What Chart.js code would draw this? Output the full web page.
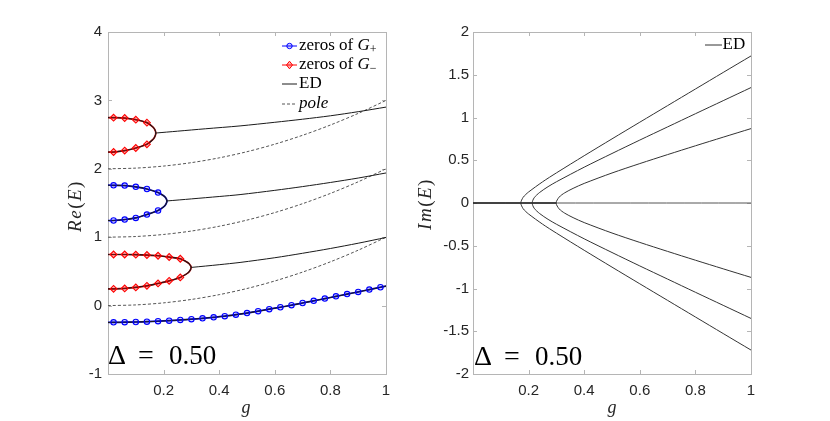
<!DOCTYPE html>
<html>
<head>
<meta charset="utf-8">
<script src="https://cdn.jsdelivr.net/npm/chart.js@4.4.1/dist/chart.umd.min.js"></script>
<style>
  html, body { margin: 0; padding: 0; background: #fff; }
  .panel { position: absolute; top: 0; width: 415px; height: 421px; }
</style>
</head>
<body>
<div class="panel" style="left:0"><canvas id="reChart"></canvas></div>
<div class="panel" style="left:415px"><canvas id="imChart"></canvas></div>
<script>
// tick labels
const gTicks = [0.2, 0.4, 0.6, 0.8, 1];
const reTicks = [-1, 0, 1, 2, 3, 4];
const imTicks = [-2, -1.5, -1, -0.5, 0, 0.5, 1, 1.5, 2];

// poles (dashed)
const poleG = [0, 0.1, 0.2, 0.3, 0.4, 0.5, 0.6, 0.7, 0.8, 0.9, 1];
const pole0 = [0, 0.01, 0.04, 0.09, 0.16, 0.25, 0.36, 0.49, 0.64, 0.81, 1.0];
const pole1 = [1, 1.01, 1.04, 1.09, 1.16, 1.25, 1.36, 1.49, 1.64, 1.81, 2.0];
const pole2 = [2, 2.01, 2.04, 2.09, 2.16, 2.25, 2.36, 2.49, 2.64, 2.81, 3.0];

// zeros of G- (upper loop), two real branches meeting at redHiBif
const redHiG = [0, 0.02, 0.06, 0.10, 0.14, 0.16, 0.168];
const redHiUp = [2.749, 2.748, 2.742, 2.718, 2.675, 2.616, 2.577];
const redHiDn = [2.245, 2.245, 2.266, 2.304, 2.358, 2.422, 2.465];
const redHiBif = [0.172, 2.523];

// zeros of G+ (middle loop)
const blueMidG = [0, 0.02, 0.06, 0.10, 0.14, 0.18, 0.20, 0.208];
const blueMidUp = [1.760, 1.759, 1.755, 1.736, 1.705, 1.653, 1.605, 1.574];
const blueMidDn = [1.244, 1.244, 1.258, 1.282, 1.331, 1.390, 1.444, 1.481];
const blueMidBif = [0.212, 1.530];

// zeros of G- (lower loop)
const redLoG = [0, 0.02, 0.06, 0.10, 0.14, 0.18, 0.22, 0.26, 0.28, 0.292];
const redLoUp = [0.747, 0.747, 0.747, 0.745, 0.739, 0.729, 0.710, 0.685, 0.645, 0.611];
const redLoDn = [0.245, 0.245, 0.251, 0.266, 0.289, 0.324, 0.362, 0.412, 0.456, 0.496];
const redLoBif = [0.299, 0.558];

// zeros of G+ (lowest branch)
const blueLoG = [0, 0.02, 0.06, 0.10, 0.14, 0.18, 0.22, 0.26, 0.30, 0.34, 0.38, 0.42, 0.46,
                 0.50, 0.54, 0.58, 0.62, 0.66, 0.70, 0.74, 0.78, 0.82, 0.86, 0.90, 0.94, 0.98, 1];
const blueLoE = [-0.246, -0.245, -0.243, -0.240, -0.235, -0.228, -0.220, -0.210, -0.199, -0.186,
                 -0.171, -0.155, -0.133, -0.109, -0.082, -0.052, -0.024, 0.006, 0.038, 0.070,
                 0.102, 0.135, 0.168, 0.200, 0.234, 0.268, 0.285];

// ED real part after the merging points
const edHiG = [0.172, 0.25, 0.35, 0.475, 0.6, 0.7, 0.8, 0.9, 1];
const edHiE = [2.523, 2.550, 2.585, 2.627, 2.680, 2.725, 2.775, 2.835, 2.902];
const edMidG = [0.212, 0.3, 0.4, 0.475, 0.6, 0.7, 0.8, 0.9, 1];
const edMidE = [1.530, 1.560, 1.595, 1.623, 1.685, 1.740, 1.800, 1.865, 1.939];
const edLoG = [0.299, 0.35, 0.4, 0.475, 0.6, 0.7, 0.8, 0.9, 1];
const edLoE = [0.558, 0.578, 0.598, 0.631, 0.700, 0.765, 0.835, 0.912, 0.996];

// ED imaginary part (upper halves; lower halves are the conjugates)
const imOuterG = [0.172, 0.18, 0.19, 0.2, 0.25, 0.3, 0.4, 0.5, 0.6, 0.7, 0.8, 0.9, 1];
const imOuter = [0, 0.065, 0.100, 0.129, 0.247, 0.352, 0.553, 0.750, 0.945, 1.139, 1.333, 1.527, 1.720];
const imMidG = [0.213, 0.22, 0.24, 0.27, 0.3, 0.4, 0.5, 0.6, 0.7, 0.8, 0.9, 1];
const imMid = [0, 0.061, 0.124, 0.191, 0.248, 0.419, 0.579, 0.736, 0.890, 1.044, 1.197, 1.350];
const imInnerG = [0.299, 0.31, 0.33, 0.36, 0.4, 0.5, 0.6, 0.7, 0.8, 0.9, 1];
const imInner = [0, 0.069, 0.119, 0.171, 0.229, 0.351, 0.461, 0.566, 0.669, 0.770, 0.870];
const zeroG = [0, 1];
const zeroE = [0, 0];

const SERIF = '"Liberation Serif", "DejaVu Serif", serif';
const SANS = '"Liberation Sans", Arial, sans-serif';
const BLUE = '#0000ff';
const RED = '#ff0000';
const INK = '#1a1a1a';

function pairs(g, e) { return g.map((v, i) => ({ x: v, y: e[i] })); }

function loop(g, up, dn, bif) {
  const pts = pairs(g, up);
  pts.push({ x: bif[0], y: bif[1] });
  for (let i = g.length - 1; i >= 0; i--) pts.push({ x: g[i], y: dn[i] });
  return pts;
}

function mirrored(g, v) {
  const pts = [];
  for (let i = g.length - 1; i > 0; i--) pts.push({ x: g[i], y: -v[i] });
  for (let i = 0; i < g.length; i++) pts.push({ x: g[i], y: v[i] });
  return pts;
}

// markers sit on g = 0.02 + 0.04k
function isMark(g) {
  const k = (g - 0.02) / 0.04;
  return g > 0.01 && Math.abs(k - Math.round(k)) < 1e-6;
}
function marks(pts) { return pts.filter(p => isMark(p.x)); }

function lineSet(data, color, width, order, dash) {
  return { data, showLine: true, borderColor: color, borderWidth: width, pointRadius: 0,
           borderDash: dash || [], tension: 0.3, fill: false, order };
}
function markSet(data, color, style) {
  return { data, showLine: false, pointStyle: style, pointRadius: style === 'circle' ? 2.7 : 3.4,
           borderColor: color, borderWidth: 1.1,
           pointBackgroundColor: color === BLUE ? 'rgba(0,0,255,0.18)' : 'rgba(255,0,0,0.3)', order: 0 };
}

function runs(ctx, parts, x, y, align) {
  let w = 0;
  parts.forEach(p => { ctx.font = p[1]; w += ctx.measureText(p[0]).width; });
  let cx = align === 'center' ? x - w / 2 : x;
  parts.forEach(p => {
    ctx.font = p[1];
    ctx.fillText(p[0], cx, y + (p[2] || 0));
    cx += ctx.measureText(p[0]).width;
  });
}

const boxPlugin = {
  id: 'box',
  beforeDatasetsDraw(chart) {
    const { ctx, chartArea: a, scales: { x, y } } = chart;
    ctx.save();
    ctx.strokeStyle = '#b5b5b5';
    ctx.lineWidth = 1;
    ctx.beginPath();
    x.ticks.forEach(t => {
      const px = Math.round(x.getPixelForValue(t.value)) + 0.5;
      ctx.moveTo(px, a.bottom); ctx.lineTo(px, a.bottom - 4);
      ctx.moveTo(px, a.top); ctx.lineTo(px, a.top + 4);
    });
    y.ticks.forEach(t => {
      const py = Math.round(y.getPixelForValue(t.value)) + 0.5;
      ctx.moveTo(a.left, py); ctx.lineTo(a.left + 4, py);
      ctx.moveTo(a.right, py); ctx.lineTo(a.right - 4, py);
    });
    ctx.stroke();
    ctx.strokeRect(Math.round(a.left) + 0.5, Math.round(a.top) + 0.5,
                   Math.round(a.right - a.left), Math.round(a.bottom - a.top));
    ctx.restore();
  }
};

function scalesFor(yMin, yMax, yTicks, yWidth, yPad) {
  return {
    x: {
      type: 'linear', min: 0, max: 1,
      afterBuildTicks: s => { s.ticks = gTicks.map(v => ({ value: v })); },
      afterFit: s => { s.height = 47; },
      grid: { display: false, drawTicks: false }, border: { display: false },
      ticks: { callback: v => String(v), font: { family: SANS, size: 15 }, color: '#262626',
               padding: 8, maxRotation: 0, autoSkip: false }
    },
    y: {
      type: 'linear', min: yMin, max: yMax,
      afterBuildTicks: s => { s.ticks = yTicks.map(v => ({ value: v })); },
      afterFit: s => { s.width = yWidth; },
      grid: { display: false, drawTicks: false }, border: { display: false },
      ticks: { callback: v => String(v), font: { family: SANS, size: 15 }, color: '#262626',
               padding: yPad, autoSkip: false }
    }
  };
}

function drawDelta(ctx, x0, base) {
  ctx.fillStyle = '#000';
  ctx.textBaseline = 'alphabetic';
  ctx.font = '28px ' + SERIF;
  ctx.fillText('\u0394', x0, base);
  ctx.fillText('=', x0 + 30, base);
  ctx.font = '27px ' + SERIF;
  ctx.fillText('0.50', x0 + 61, base);
}

function drawYTitle(ctx, parts, cx, cy) {
  ctx.save();
  ctx.translate(cx, cy);
  ctx.rotate(-Math.PI / 2);
  ctx.fillStyle = '#262626';
  ctx.textBaseline = 'middle';
  ctx.letterSpacing = '1.5px';
  runs(ctx, parts, 0, 0, 'center');
  ctx.restore();
}

const reText = {
  id: 'reText',
  afterDraw(chart) {
    const ctx = chart.ctx;
    ctx.save();
    const it = 'italic 19px ' + SERIF, rm = '19px ' + SERIF;
    drawYTitle(ctx, [['Re', it], ['(', rm], ['E', it], [')', rm]], 76, 206);
    ctx.fillStyle = '#262626';
    ctx.textBaseline = 'alphabetic';
    runs(ctx, [['g', 'italic 18px ' + SERIF]], 246, 413, 'center');
    drawDelta(ctx, 108, 364);

    // legend
    const lx0 = 282, lx1 = 297, tx = 299, rows = [46, 65, 84, 104];
    const f = '17px ' + SERIF, fi = 'italic 17px ' + SERIF, fs = '12px ' + SERIF;
    ctx.lineWidth = 1;
    ctx.strokeStyle = BLUE;
    ctx.beginPath(); ctx.moveTo(lx0, rows[0]); ctx.lineTo(lx1, rows[0]); ctx.stroke();
    ctx.fillStyle = 'rgba(0,0,255,0.18)';
    ctx.beginPath(); ctx.arc((lx0 + lx1) / 2, rows[0], 2.7, 0, Math.PI * 2); ctx.fill(); ctx.stroke();
    ctx.strokeStyle = RED;
    ctx.beginPath(); ctx.moveTo(lx0, rows[1]); ctx.lineTo(lx1, rows[1]); ctx.stroke();
    const dx = (lx0 + lx1) / 2;
    ctx.fillStyle = 'rgba(255,0,0,0.3)';
    ctx.beginPath(); ctx.moveTo(dx - 3, rows[1]); ctx.lineTo(dx, rows[1] - 3.8);
    ctx.lineTo(dx + 3, rows[1]); ctx.lineTo(dx, rows[1] + 3.8); ctx.closePath(); ctx.fill(); ctx.stroke();
    ctx.strokeStyle = INK;
    ctx.beginPath(); ctx.moveTo(lx0, rows[2]); ctx.lineTo(lx1, rows[2]); ctx.stroke();
    ctx.strokeStyle = '#555';
    ctx.setLineDash([3, 2]);
    ctx.beginPath(); ctx.moveTo(lx0, rows[3]); ctx.lineTo(lx1, rows[3]); ctx.stroke();
    ctx.setLineDash([]);
    ctx.fillStyle = '#000';
    ctx.textBaseline = 'middle';
    runs(ctx, [['zeros of ', f], ['G', fi], ['+', fs, 4]], tx, rows[0]);
    runs(ctx, [['zeros of ', f], ['G', fi], ['\u2212', fs, 4]], tx, rows[1]);
    runs(ctx, [['ED', f]], tx, rows[2]);
    runs(ctx, [['pole', fi]], tx, rows[3]);
    ctx.restore();
  }
};

const imText = {
  id: 'imText',
  afterDraw(chart) {
    const ctx = chart.ctx;
    ctx.save();
    const it = 'italic 19px ' + SERIF, rm = '19px ' + SERIF;
    drawYTitle(ctx, [['Im', it], ['(', rm], ['E', it], [')', rm]], 11, 204);
    ctx.fillStyle = '#262626';
    ctx.textBaseline = 'alphabetic';
    runs(ctx, [['g', 'italic 18px ' + SERIF]], 197, 413, 'center');
    drawDelta(ctx, 59, 365);
    ctx.strokeStyle = '#333';
    ctx.lineWidth = 1;
    ctx.beginPath(); ctx.moveTo(290, 45); ctx.lineTo(307, 45); ctx.stroke();
    ctx.fillStyle = '#000';
    ctx.textBaseline = 'middle';
    runs(ctx, [['ED', '17px ' + SERIF]], 307.5, 45);
    ctx.restore();
  }
};

const redHi = loop(redHiG, redHiUp, redHiDn, redHiBif);
const blueMid = loop(blueMidG, blueMidUp, blueMidDn, blueMidBif);
const redLo = loop(redLoG, redLoUp, redLoDn, redLoBif);
const blueLo = pairs(blueLoG, blueLoE);

const baseOptions = {
  responsive: true, maintainAspectRatio: false, animation: false,
  plugins: { legend: { display: false }, tooltip: { enabled: false } }
};

new Chart(document.getElementById('reChart'), {
  type: 'scatter',
  data: {
    datasets: [
      lineSet(pairs(poleG, pole0), '#555', 1, 6, [3, 2]),
      lineSet(pairs(poleG, pole1), '#555', 1, 6, [3, 2]),
      lineSet(pairs(poleG, pole2), '#555', 1, 6, [3, 2]),
      lineSet(redHi, '#d00000', 1.7, 5),
      lineSet(blueMid, '#0000d0', 1.7, 5),
      lineSet(redLo, '#d00000', 1.7, 5),
      lineSet(blueLo, '#0000d0', 1.7, 5),
      lineSet(redHi, INK, 1.1, 4),
      lineSet(blueMid, INK, 1.1, 4),
      lineSet(redLo, INK, 1.1, 4),
      lineSet(blueLo, INK, 1.1, 4),
      lineSet(pairs(edHiG, edHiE), INK, 1, 4),
      lineSet(pairs(edMidG, edMidE), INK, 1, 4),
      lineSet(pairs(edLoG, edLoE), INK, 1, 4),
      markSet(marks(redHi), RED, 'rectRot'),
      markSet(marks(redLo), RED, 'rectRot'),
      markSet(marks(blueMid), BLUE, 'circle'),
      markSet(marks(blueLo), BLUE, 'circle')
    ]
  },
  options: Object.assign({}, baseOptions, {
    layout: { padding: { top: 32, right: 29, left: 0, bottom: 0 } },
    scales: scalesFor(-1, 4, reTicks, 108, 6)
  }),
  plugins: [boxPlugin, reText]
});

new Chart(document.getElementById('imChart'), {
  type: 'scatter',
  data: {
    datasets: [
      lineSet(pairs(zeroG, zeroE), '#555', 1, 3),
      lineSet(pairs([0, imInnerG[0]], zeroE), '#222', 1.3, 2),
      lineSet(mirrored(imOuterG, imOuter), '#333', 1, 1),
      lineSet(mirrored(imMidG, imMid), '#333', 1, 1),
      lineSet(mirrored(imInnerG, imInner), '#333', 1, 1)
    ]
  },
  options: Object.assign({}, baseOptions, {
    layout: { padding: { top: 32, right: 79, left: 0, bottom: 0 } },
    scales: scalesFor(-2, 2, imTicks, 58, 4)
  }),
  plugins: [boxPlugin, imText]
});
</script>
</body>
</html>
